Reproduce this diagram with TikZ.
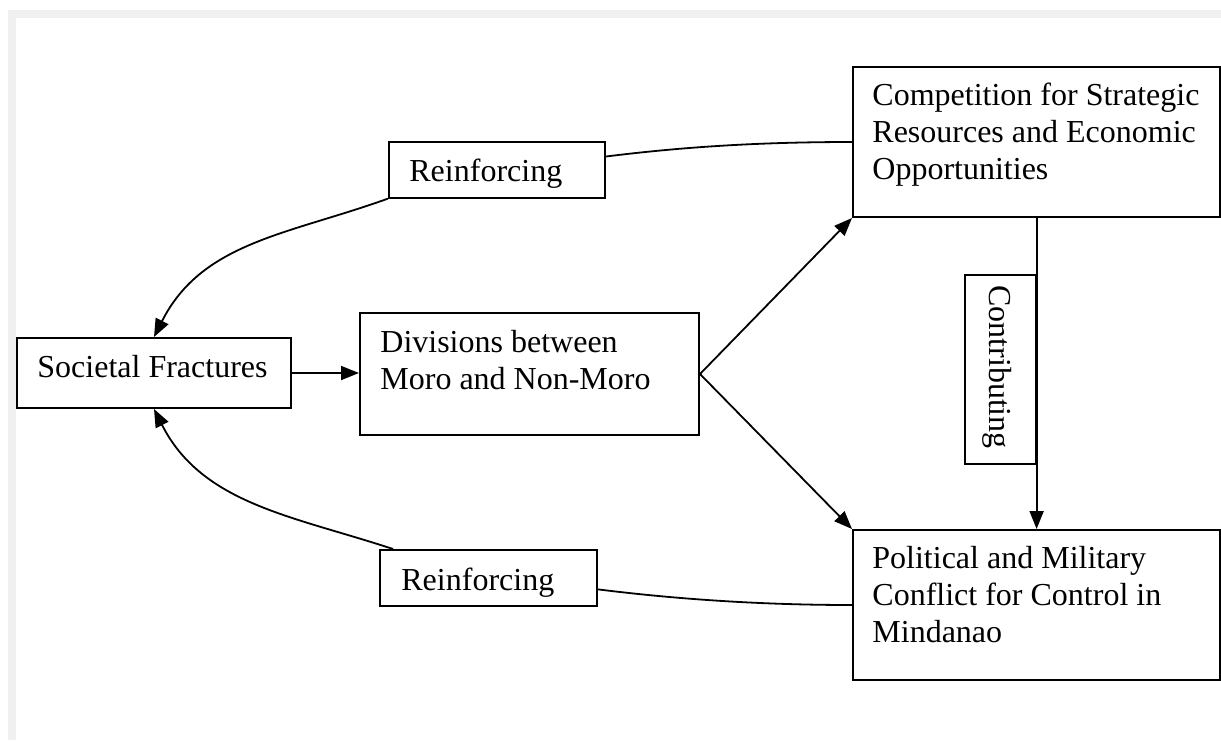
\documentclass[tikz,border=0pt]{standalone}
\usepackage{fontspec}
\setmainfont{Liberation Serif}
\usetikzlibrary{arrows.meta,calc}
\definecolor{framegray}{HTML}{F0F0F0}
\begin{document}
\begin{tikzpicture}[x=0.5pt,y=-0.5pt,
  box/.style={draw,line width=1pt,rectangle,inner sep=0pt,anchor=north west},
  lbl/.style={draw,line width=0.8pt,rectangle,inner sep=0pt,anchor=north west},
  txt/.style={inner sep=0pt,anchor=north west,align=left,font=\fontsize{16}{18.5}\selectfont},
  onetxt/.style={inner sep=0pt,anchor=base west,font=\fontsize{16}{18.5}\selectfont},
  conn/.style={line width=0.9pt},
  arr/.style={conn,-{Triangle[length=9pt,width=7pt]}}]
\useasboundingbox (0,0) rectangle (1221,740);
\fill[framegray] (8,10) rectangle (1221,740);
\fill[white] (16,18) rectangle (1221,740);

% boxes
\node[box,minimum width=137pt,minimum height=35pt] (soc) at (16,337) {};
\node[box,minimum width=169.5pt,minimum height=61pt] (div) at (359,312) {};
\node[box,minimum width=183.5pt,minimum height=75pt] (comp) at (852,66) {};
\node[box,minimum width=183.5pt,minimum height=75pt] (pol) at (852,529) {};
\node[lbl,minimum width=108pt,minimum height=28pt] (rt) at (388,141) {};
\node[lbl,minimum width=108.5pt,minimum height=28pt] (rb) at (379,549) {};
\node[lbl,minimum width=35.5pt,minimum height=94.5pt] (con) at (964,274) {};

% texts
\node[onetxt] (soctxt) at (37,377) {Societal Fractures};
\node[txt] (divtxt) at (380,330) {Divisions between\\Moro and Non-Moro};
\node[txt] (comptxt) at (872,83) {Competition for Strategic\\Resources and Economic\\Opportunities};
\node[txt] (poltxt) at (872,546) {Political and Military\\Conflict for Control in\\Mindanao};
\node[onetxt] (rttxt) at (409,181) {Reinforcing};
\node[onetxt] (rbtxt) at (401,590) {Reinforcing};
\node[inner sep=0pt,rotate=-90,font=\fontsize{16}{18.5}\selectfont] (contxt) at (997.5,367) {Contributing};

% connectors
\draw[arr] (soc.east) -- (soc.east -| div.west);
\draw[arr] (div.east) -- (comp.south west);
\draw[arr] (div.east) -- (pol.north west);
\draw[arr] (con.east |- comp.south) -- (con.east |- pol.north);

\coordinate (rtout) at ($(rt.north east)!0.27!(rt.south east)$);
\coordinate (rbout) at ($(rb.north east)!0.70!(rb.south east)$);
\coordinate (rbin) at ($(rb.north west)+(14,0)$);

\draw[conn] (rtout) .. controls ($(rtout)+(80,-10)$) and ($(comp.west)+(-90,0)$) .. (comp.west);
\draw[conn] (rbout) .. controls ($(rbout)+(80,10)$) and ($(pol.west)+(-90,0)$) .. (pol.west);
\draw[arr] (rt.south west) .. controls ($(rt.south west)+(-100,36)$) and ($(soc.north)+(48,-95)$) .. (soc.north);
\draw[arr] (rbin) .. controls ($(rbin)+(-100,-33)$) and ($(soc.south)+(48,95)$) .. (soc.south);
\end{tikzpicture}
\end{document}
